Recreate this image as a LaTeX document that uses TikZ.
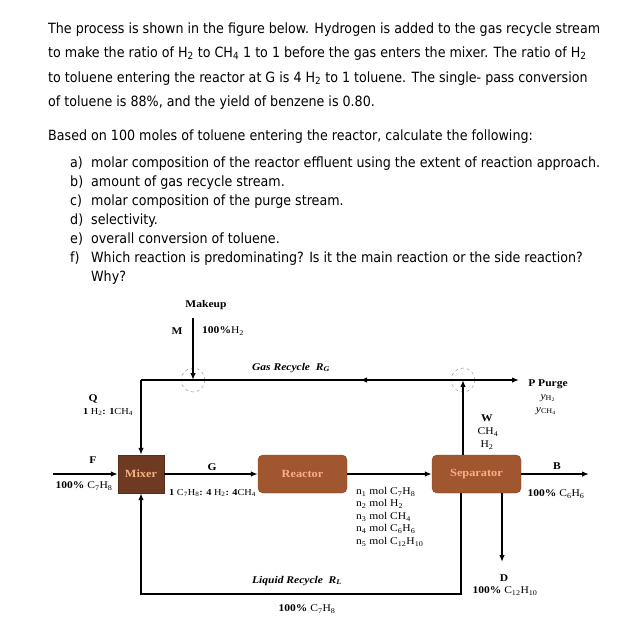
\documentclass[tikz,border=0pt]{standalone}
\usepackage{fontspec}
\setmainfont{DejaVu Sans Condensed}
\newfontfamily\sr[FakeStretch=1.12]{Liberation Serif}
\usetikzlibrary{arrows.meta}
\definecolor{mixc}{HTML}{6E3B22}
\definecolor{boxc}{HTML}{A0562F}
\definecolor{boxd}{HTML}{8A4424}
\definecolor{labc}{HTML}{F6B183}
\newcommand{\sub}[1]{\textsubscript{#1}}
\tikzset{
 body/.style={anchor=base west, inner sep=0, font=\fontsize{14.1}{16}\selectfont},
 lab/.style={inner sep=0, font=\sr\fontsize{10.3}{12}\selectfont},
 blab/.style={lab, font=\sr\bfseries\fontsize{10.3}{12}\selectfont},
 slab/.style={inner sep=0, font=\sr\fontsize{9.2}{11}\selectfont},
 flow/.style={line width=1.7pt, -{Latex[length=7pt,width=5.5pt]}},
 unit/.style={draw=boxd, fill=boxc, rounded corners=5pt, text=labc, minimum height=38pt, inner sep=0,
   font=\sr\bfseries\fontsize{11}{13}\selectfont},
 junc/.style={circle, draw=gray, dashed, minimum size=24pt, inner sep=0},
}
\begin{document}
\begin{tikzpicture}[x=1pt,y=-1pt]
\useasboundingbox[fill=white] (0,0) rectangle (626,625);
% text
\node[body] (t1) at (48,33) {The process is shown in the figure below. Hydrogen is added to the gas recycle stream};
\node[body] (t2) at (48,57) {to make the ratio of H\sub{2} to CH\sub{4} 1 to 1 before the gas enters the mixer. The ratio of H\sub{2}};
\node[body] (t3) at (48,82) {to toluene entering the reactor at G is 4 H\sub{2} to 1 toluene. The single- pass conversion};
\node[body] (t4) at (48,106) {of toluene is 88\%, and the yield of benzene is 0.80.};
\node[body] (t5) at (48,140) {Based on 100 moles of toluene entering the reactor, calculate the following:};
\foreach \l/\y/\t in {a/167/molar composition of the reactor effluent using the extent of reaction approach.,
 b/186/amount of gas recycle stream.,
 c/205/molar composition of the purge stream.,
 d/224/selectivity.,
 e/243/overall conversion of toluene.,
 f/262/Which reaction is predominating? Is it the main reaction or the side reaction?}{
 \node[body] (l\l) at (70,\y) {\l)};
 \node[body] (i\l) at (91,\y) {\t};
}
\node[body] (why) at (91,281) {Why?};
% units
\node[unit, fill=mixc, draw=mixc!80!black, rounded corners=0pt, minimum width=46pt] (mix) at (141,474) {Mixer};
\node[unit, minimum width=89pt] (rea) at (302.5,474) {Reactor};
\node[unit, minimum width=89pt] (sep) at (476.5,474) {Separator};
% junctions
\coordinate (j1) at (193,380);
\coordinate (j2) at (463,380);
\node[junc] (c1) at (j1) {};
\node[junc] (c2) at (j2) {};
\coordinate (mk) at (193,318);
\coordinate (gl) at (141,380);
\coordinate (pout) at (519,380);
\coordinate (mid) at (360,380);
\coordinate (fin) at (53,474);
\coordinate (bout) at (589,474);
\coordinate (dout) at (502,562);
\coordinate (rl1) at (461,594);
\coordinate (rl2) at (141,594);
% connectors
\draw[flow] (mk) -- (j1);
\draw[flow] (gl) -- (pout);
\draw[flow] (j2) -- (mid);
\draw[flow] (sep.north -| j2) -- (j2);
\draw[flow] (gl) -- (mix.north);
\draw[flow] (fin) -- (mix.west);
\draw[flow] (mix.east) -- (rea.west);
\draw[flow] (rea.east) -- (sep.west);
\draw[flow] (sep.east) -- (bout);
\draw[flow] (sep.south -| dout) -- (dout);
\draw[flow] (sep.south -| rl1) -- (rl1) -- (rl2) -- (mix.south);
% labels
\node[blab] (mkl) at (206,305) {Makeup};
\node[blab] (ml) at (177,331) {M};
\node[lab, anchor=west] (mh) at (202,331) {\textbf{100\%}H\sub{2}};
\node[lab] (grl) at (291,368) {\bfseries\itshape Gas Recycle\ \ R\sub{G}};
\node[blab] (pl) at (548,384) {P Purge};
\node[lab] (py1) at (548,398) {\itshape y\sub{\upshape H\sub{2}}};
\node[lab] (py2) at (546,411) {\itshape y\sub{\upshape CH\sub{4}}};
\node[blab] (wl) at (487,418) {W};
\node[lab] (w1) at (488,432) {CH\sub{4}};
\node[lab] (w2) at (487,445) {H\sub{2}};
\node[blab] (ql) at (93,399) {Q};
\node[slab] (q1) at (108,412) {\textbf{1} H\sub{2}\textbf{: 1}CH\sub{4}};
\node[blab] (fl) at (93,460) {F};
\node[lab] (f1) at (84,486) {\textbf{100\%} C\sub{7}H\sub{8}};
\node[blab] (gll) at (212,467) {G};
\node[slab, anchor=west] (g1) at (169,493) {\textbf{1} C\sub{7}H\sub{8}\textbf{: 4} H\sub{2}\textbf{: 4}CH\sub{4}};
\node[blab] (bl) at (557,466) {B};
\node[lab] (b1) at (556,494) {\textbf{100\%} C\sub{6}H\sub{6}};
\node[blab] (dl) at (504,578) {D};
\node[lab] (d1) at (505,591) {\textbf{100\%} C\sub{12}H\sub{10}};
\node[lab] (lrl) at (297,581) {\bfseries\itshape Liquid Recycle\ \ R\sub{L}};
\node[lab] (lr1) at (307,609) {\textbf{100\%} C\sub{7}H\sub{8}};
\node[lab, anchor=west] (n1) at (356,492) {n\sub{1} mol C\sub{7}H\sub{8}};
\node[lab, anchor=west] (n2) at (356,504) {n\sub{2} mol H\sub{2}};
\node[lab, anchor=west] (n3) at (356,517) {n\sub{3} mol CH\sub{4}};
\node[lab, anchor=west] (n4) at (356,529) {n\sub{4} mol C\sub{6}H\sub{6}};
\node[lab, anchor=west] (n5) at (356,542) {n\sub{5} mol C\sub{12}H\sub{10}};
\end{tikzpicture}
\end{document}
